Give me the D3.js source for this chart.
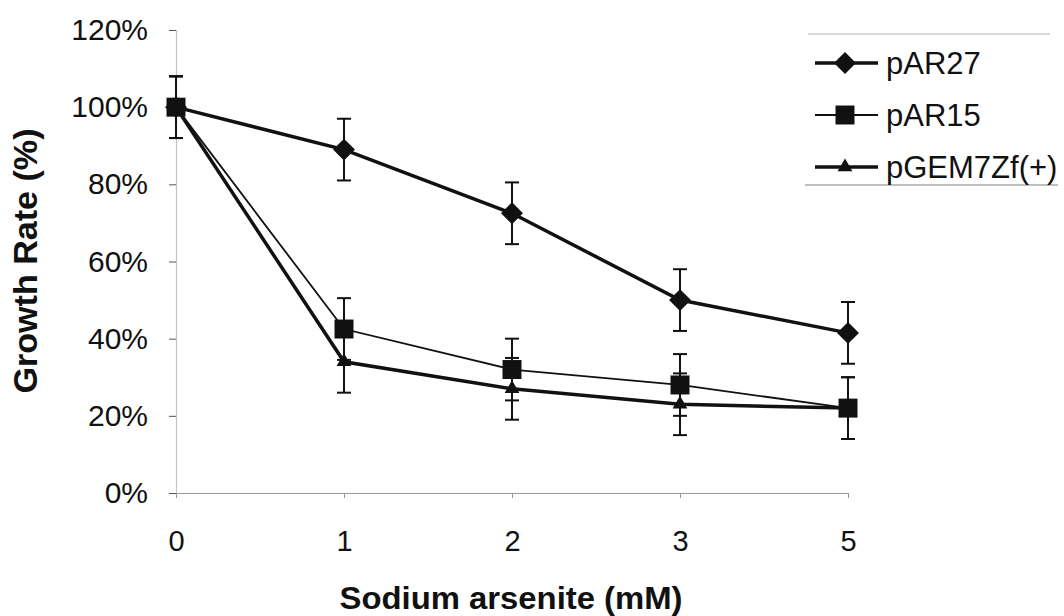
<!DOCTYPE html>
<html>
<head>
<meta charset="utf-8">
<script src="https://cdn.jsdelivr.net/npm/d3@7"></script>
<style>
  body { margin: 0; background: #fff; }
  text { font-family: "Liberation Sans", Arial, sans-serif; fill: #111; }
</style>
</head>
<body>
<div id="chart"></div>
<script>
// data
var doses = ["0", "1", "2", "3", "5"];
var pAR27 = [100, 89, 72.5, 50, 41.5];
var pAR15 = [100, 42.5, 32, 28, 22];
var pGEM = [100, 34, 27, 23, 22];
var errs = [8, 8, 8, 8, 8];
var yTicks = [0, 20, 40, 60, 80, 100, 120];

var series = [
  {name: "pAR27", values: pAR27, symbol: "diamond", width: 3.5},
  {name: "pAR15", values: pAR15, symbol: "square", width: 1.8},
  {name: "pGEM7Zf(+)", values: pGEM, symbol: "triangle", width: 3.5}
];

var width = 1064, height = 616;
var svg = d3.select("#chart").append("svg")
    .attr("width", width)
    .attr("height", height);

// scales
var x = d3.scalePoint().domain(doses).range([176, 848]);
var y = d3.scaleLinear().domain([0, 120]).range([493, 30]);

// y axis
var yAxis = svg.append("g")
    .attr("transform", "translate(176,0)")
    .call(d3.axisLeft(y).tickValues(yTicks).tickSize(7).tickPadding(21)
      .tickFormat(function(d){ return d + "%"; }));
yAxis.select(".domain").attr("stroke", "#c4c4c4").attr("stroke-width", 1.2);
yAxis.selectAll(".tick line").attr("stroke", "#555");
yAxis.selectAll("text").style("font-size", "30px").attr("fill", "#111");

// x axis
var xAxis = svg.append("g")
    .attr("transform", "translate(0,493)")
    .call(d3.axisBottom(x).tickSize(5).tickSizeOuter(0).tickPadding(32));
xAxis.select(".domain").attr("stroke", "#999").attr("stroke-width", 1.2);
xAxis.selectAll(".tick line").attr("stroke", "#999");
xAxis.selectAll("text").style("font-size", "29px").attr("fill", "#111");

// axis titles
svg.append("text")
    .attr("transform", "translate(37,261) rotate(-90)")
    .attr("text-anchor", "middle")
    .attr("textLength", 265).attr("lengthAdjust", "spacingAndGlyphs")
    .style("font-size", "33px").style("font-weight", "bold")
    .text("Growth Rate (%)");
svg.append("text")
    .attr("x", 511).attr("y", 609)
    .attr("text-anchor", "middle")
    .attr("textLength", 343).attr("lengthAdjust", "spacingAndGlyphs")
    .style("font-size", "32px").style("font-weight", "bold")
    .text("Sodium arsenite (mM)");

function symbolPath(s) {
  if (s === "diamond") return d3.symbol().type(d3.symbolSquare).size(240)();
  if (s === "square") return d3.symbol().type(d3.symbolSquare).size(360)();
  return d3.symbol().type(d3.symbolTriangle).size(95)();
}

var line = d3.line()
    .x(function(d, i){ return x(doses[i]); })
    .y(function(d){ return y(d); });

series.forEach(function(s) {
  // error bars
  var eb = svg.append("g").attr("stroke", "#111").attr("stroke-width", 2);
  s.values.forEach(function(v, i) {
    var cx = x(doses[i]);
    eb.append("line").attr("x1", cx).attr("x2", cx)
      .attr("y1", y(v + errs[i])).attr("y2", y(v - errs[i]));
    [v + errs[i], v - errs[i]].forEach(function(e) {
      eb.append("line").attr("x1", cx - 7).attr("x2", cx + 7)
        .attr("y1", y(e)).attr("y2", y(e));
    });
  });
});

series.forEach(function(s) {
  svg.append("path")
      .datum(s.values)
      .attr("fill", "none")
      .attr("stroke", "#111")
      .attr("stroke-width", s.width)
      .attr("d", line);
  svg.selectAll(null)
      .data(s.values)
      .enter().append("path")
      .attr("d", symbolPath(s.symbol))
      .attr("fill", "#111")
      .attr("transform", function(d, i){
        return "translate(" + x(doses[i]) + "," + y(d) + ")" + (s.symbol === "diamond" ? " rotate(45)" : "");
      });
});

// legend
var legend = svg.append("g");
legend.append("line").attr("x1", 808).attr("x2", 1050).attr("y1", 34).attr("y2", 34)
    .attr("stroke", "#ccc").attr("stroke-width", 1.5);
legend.append("line").attr("x1", 805).attr("x2", 1058).attr("y1", 185).attr("y2", 185)
    .attr("stroke", "#aaa").attr("stroke-width", 1.5);
series.forEach(function(s, i) {
  var ly = 63 + i * 52;
  legend.append("line").attr("x1", 815).attr("x2", 878).attr("y1", ly).attr("y2", ly)
      .attr("stroke", "#111").attr("stroke-width", s.width);
  legend.append("path").attr("d", symbolPath(s.symbol)).attr("fill", "#111")
      .attr("transform", "translate(845," + ly + ")" + (s.symbol === "diamond" ? " rotate(45)" : ""));
  legend.append("text").attr("x", 886).attr("y", ly + 11)
      .style("font-size", "31px").text(s.name);
});
</script>
</body>
</html>
